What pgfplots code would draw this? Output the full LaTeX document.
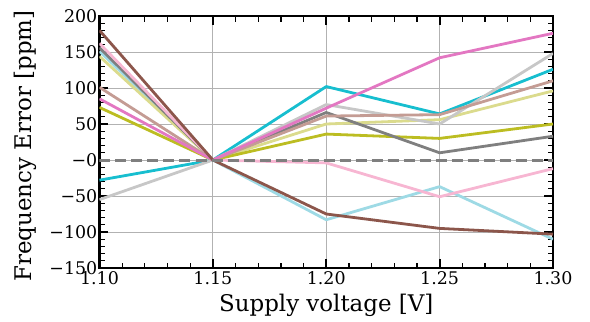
\documentclass[border=0pt]{standalone}
\usepackage{fontspec}
\setmainfont{DejaVu Serif}
\usepackage{pgfplots}
\pgfplotsset{compat=1.18}
\definecolor{cbrown}{HTML}{8C564B}
\definecolor{lbrown}{HTML}{C49C94}
\definecolor{cpink}{HTML}{E377C2}
\definecolor{lpink}{HTML}{F7B6D2}
\definecolor{cgray}{HTML}{7F7F7F}
\definecolor{lgray}{HTML}{C7C7C7}
\definecolor{colive}{HTML}{BCBD22}
\definecolor{lolive}{HTML}{DBDB8D}
\definecolor{ccyan}{HTML}{17BECF}
\definecolor{lcyan}{HTML}{9EDAE5}
\begin{document}
\begin{tikzpicture}
\begin{axis}[
  scale only axis, width=453.5bp, height=252bp,
  xmin=1.10, xmax=1.30, ymin=-150, ymax=200,
  xtick={1.10,1.15,1.20,1.25,1.30},
  xticklabels={1.10,1.15,1.20,1.25,1.30},
  ytick={-150,-100,-50,0,50,100,150,200},
  yticklabels={−150,−100,−50,−0,50,100,150,200},
  minor x tick num=4, minor y tick num=4,
  tick align=inside, xtick pos=both, ytick pos=both,
  major tick length=9bp, minor tick length=5.5bp,
  every major tick/.style={black, line width=1.8bp},
  every minor tick/.style={black, line width=1.2bp},
  axis line style={line width=2.5bp},
  grid=major, major grid style={color=black!30, line width=0.9bp},
  tick label style={font=\fontsize{17.5}{20}\selectfont},
  yticklabel style={inner xsep=2bp},
  xticklabel style={inner ysep=3bp},
  label style={font=\fontsize{23}{26}\selectfont},
  xlabel={Supply voltage [V]}, ylabel={Frequency Error [ppm]},
  xlabel style={at={(axis description cs:0.5,-0.147)}, anchor=center},
  ylabel style={at={(axis description cs:-0.164,0.484)}, anchor=center},
  every axis plot/.append style={line width=2.8bp, line join=round},
]
\addplot[lcyan] coordinates {(1.10,151) (1.15,0) (1.20,-83) (1.25,-37) (1.30,-110)};
\addplot[ccyan] coordinates {(1.10,-28) (1.15,0) (1.20,102) (1.25,64) (1.30,126)};
\addplot[lolive] coordinates {(1.10,144) (1.15,0) (1.20,50) (1.25,56) (1.30,96)};
\addplot[colive] coordinates {(1.10,73) (1.15,0) (1.20,36) (1.25,30) (1.30,50)};
\addplot[lgray] coordinates {(1.10,-55) (1.15,0) (1.20,77) (1.25,50) (1.30,148)};
\addplot[cgray] coordinates {(1.10,156) (1.15,0) (1.20,66) (1.25,10) (1.30,33)};
\addplot[lpink] coordinates {(1.10,162) (1.15,0) (1.20,-4) (1.25,-51) (1.30,-12)};
\addplot[lbrown] coordinates {(1.10,101) (1.15,0) (1.20,61) (1.25,63) (1.30,110)};
\addplot[cpink] coordinates {(1.10,85) (1.15,0) (1.20,72) (1.25,142) (1.30,176)};
\addplot[cbrown] coordinates {(1.10,180) (1.15,0) (1.20,-75) (1.25,-95) (1.30,-103)};
\addplot[cgray, line width=3bp, dash pattern=on 11bp off 5bp] coordinates {(1.10,0) (1.30,0)};
\coordinate (sw) at (rel axis cs:0,0);
\coordinate (ne) at (rel axis cs:1,1);
\end{axis}
\pgfresetboundingbox
\path[use as bounding box] ([xshift=-99.5bp,yshift=-54bp]sw) rectangle ([xshift=37bp,yshift=16bp]ne);
\end{tikzpicture}
\end{document}
